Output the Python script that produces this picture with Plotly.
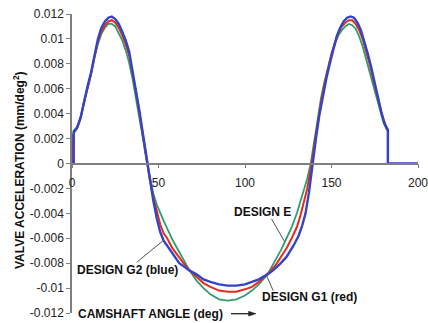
import numpy as np
import plotly.graph_objects as go

# Valve acceleration vs camshaft angle for three cam designs
# Design E (green)
angle_e = [0, 0, 3, 5, 7, 9, 11, 13, 15, 17, 19, 21, 23, 25, 27, 29, 31, 33, 35, 37, 39, 41, 43,
           45, 47, 49, 51, 53, 55, 58, 62, 65, 68, 72, 76, 80, 85, 90, 95, 100, 104, 108, 113,
           115, 118, 121, 124, 127, 130, 132, 134, 136, 138, 140, 142, 144, 146, 148, 150, 152,
           154, 156, 158, 160, 162, 164, 166, 168, 170, 172, 174, 176, 178, 180, 182, 182.6, 182.6]
accel_e = [0.0, 0.0022, 0.0028, 0.0036, 0.0049, 0.0060, 0.0071, 0.0085, 0.0096, 0.0104, 0.0109,
           0.0112, 0.0112, 0.0110, 0.0105, 0.0099, 0.0091, 0.0081, 0.0068, 0.0053, 0.0037, 0.0020,
           0.0003, -0.0012, -0.0024, -0.0033, -0.0040, -0.0046, -0.0052, -0.0061, -0.0071, -0.0079,
           -0.0086, -0.0094, -0.0100, -0.0105, -0.0109, -0.0110, -0.0109, -0.0106, -0.0102, -0.0097,
           -0.0089, -0.0084, -0.0077, -0.0069, -0.0060, -0.0051, -0.0040, -0.0031, -0.0021, -0.0012,
           0.0000, 0.0019, 0.0037, 0.0053, 0.0066, 0.0078, 0.0088, 0.0096, 0.0103, 0.0107, 0.0110,
           0.0112, 0.0111, 0.0108, 0.0102, 0.0094, 0.0084, 0.0073, 0.0062, 0.0052, 0.0042, 0.0033,
           0.0027, 0.0026, 0.0]

# Design G1 (red)
angle_g1 = [0, 1, 3, 5, 7, 9, 11, 13, 15, 17, 19, 21, 23, 25, 27, 29, 31, 33, 35, 37, 39, 41, 43,
            45, 47, 49, 51, 53, 55, 58, 62, 65, 68, 72, 76, 80, 85, 90, 95, 100, 104, 108, 113,
            115, 118, 121, 124, 127, 130, 132, 134, 136, 138, 140, 142, 144, 146, 148, 150, 152,
            154, 156, 158, 160, 162, 164, 166, 168, 170, 172, 174, 176, 178, 180, 182, 182.6, 182.6]
accel_g1 = [0.0, 0.0025, 0.0029, 0.0037, 0.0050, 0.0061, 0.0072, 0.0086, 0.0098, 0.0106, 0.0111,
            0.0114, 0.0115, 0.0113, 0.0109, 0.0103, 0.0096, 0.0087, 0.0073, 0.0057, 0.0040, 0.0022,
            0.0004, -0.0013, -0.0027, -0.0039, -0.0049, -0.0056, -0.0060, -0.0068, -0.0076, -0.0081,
            -0.0086, -0.0091, -0.0096, -0.0099, -0.0102, -0.0103, -0.0103, -0.0101, -0.0099, -0.0095,
            -0.0089, -0.0086, -0.0081, -0.0075, -0.0068, -0.0060, -0.0051, -0.0042, -0.0032, -0.0020,
            -0.0004, 0.0014, 0.0033, 0.0050, 0.0064, 0.0077, 0.0088, 0.0097, 0.0105, 0.0110, 0.0113,
            0.0115, 0.0115, 0.0112, 0.0107, 0.0100, 0.0091, 0.0080, 0.0068, 0.0057, 0.0045, 0.0035,
            0.0028, 0.0027, 0.0]

# Design G2 (blue)
angle_g2 = [0, 1, 1, 3, 5, 7, 9, 11, 13, 15, 17, 19, 21, 23, 25, 27, 29, 31, 33, 35, 37, 39, 41,
            43, 45, 47, 49, 51, 53, 55, 57, 59, 62, 65, 68, 72, 76, 80, 85, 90, 95, 100, 104, 108,
            113, 116, 120, 124, 128, 131, 133, 135, 137, 139, 141, 143, 145, 147, 149, 151, 153,
            155, 157, 159, 161, 163, 165, 167, 169, 171, 173, 175, 177, 179, 181, 182.6, 182.6, 200]
accel_g2 = [0.0, 0.0, 0.0026, 0.0029, 0.0037, 0.0051, 0.0062, 0.0073, 0.0088, 0.0100, 0.0109,
            0.0114, 0.0117, 0.0118, 0.0116, 0.0112, 0.0106, 0.0099, 0.0090, 0.0075, 0.0059, 0.0042,
            0.0024, 0.0005, -0.0014, -0.0030, -0.0044, -0.0055, -0.0062, -0.0066, -0.0071, -0.0075,
            -0.0080, -0.0083, -0.0086, -0.0089, -0.0093, -0.0095, -0.0097, -0.0098, -0.0098,
            -0.0097, -0.0095, -0.0093, -0.0089, -0.0086, -0.0081, -0.0075, -0.0066, -0.0058,
            -0.0050, -0.0040, -0.0023, 0.0000, 0.0020, 0.0039, 0.0055, 0.0068, 0.0080, 0.0092,
            0.0102, 0.0109, 0.0114, 0.0117, 0.0118, 0.0117, 0.0113, 0.0107, 0.0098, 0.0088, 0.0077,
            0.0065, 0.0052, 0.0040, 0.0031, 0.0027, 0.0, 0.0]

y_tick_vals = [0.012, 0.01, 0.008, 0.006, 0.004, 0.002, 0, -0.002, -0.004, -0.006, -0.008, -0.01, -0.012]
y_tick_text = ["0.012", "0.01", "0.008", "0.006", "0.004", "0.002", "0",
               "-0.002", "-0.004", "-0.006", "-0.008", "-0.01", "-0.012"]
x_tick_vals = [0, 50, 100, 150, 200]
x_tick_text = ["0", "50", "100", "150", "200"]

FONT = "Liberation Sans, Arial, sans-serif"
GREEN = "#2f9e6c"
RED = "#e62a1e"
BLUE = "#3344c4"

W, H = 428, 323
ML, MR, MT, MB = 72, 10, 14, 10

fig = go.Figure()
fig.add_trace(go.Scatter(x=angle_e, y=accel_e, mode="lines", line=dict(color=GREEN, width=1.8)))
fig.add_trace(go.Scatter(x=angle_g1, y=accel_g1, mode="lines", line=dict(color=RED, width=2)))
fig.add_trace(go.Scatter(x=angle_g2, y=accel_g2, mode="lines", line=dict(color=BLUE, width=2.4)))

fig.update_layout(
    width=W, height=H,
    margin=dict(l=ML, r=MR, t=MT, b=MB),
    paper_bgcolor="white", plot_bgcolor="white",
    showlegend=False,
    font=dict(family=FONT, size=12, color="#222"),
)
fig.update_xaxes(
    range=[0, 200], showgrid=False, zeroline=False,
    showline=True, linecolor="#808080", linewidth=1.5,
    anchor="free", position=0.5, automargin=False,
    ticks="outside", ticklen=4, tickcolor="#808080",
    tickvals=x_tick_vals, ticktext=x_tick_text,
    ticklabelstandoff=4, ticklabeloverflow="allow",
)
fig.update_yaxes(
    range=[-0.012, 0.012], showgrid=False, zeroline=False, automargin=False,
    showline=True, linecolor="#808080", linewidth=1.5,
    ticks="outside", ticklen=4, tickcolor="#808080",
    tickvals=y_tick_vals, ticktext=y_tick_text,
)

bold = dict(family=FONT, size=12, color="#111")


def px_to_paper(px, py):
    return (px - ML) / (W - ML - MR), 1 - (py - MT) / (H - MT - MB)


# axis titles (paper coordinates so they can sit on the plot edge)
tx, ty = px_to_paper(19, 170)
fig.add_annotation(xref="paper", yref="paper", x=tx, y=ty, textangle=-90,
                   xanchor="center", yanchor="middle",
                   text="<b>VALVE ACCELERATION (mm/deg<sup>2</sup>)</b>", showarrow=False,
                   font=dict(family=FONT, size=12, color="#111"))
fig.add_annotation(xref="paper", yref="paper", x=0.013, y=-0.002, xanchor="left", yanchor="middle",
                   text="<b>CAMSHAFT ANGLE (deg)</b>", showarrow=False, font=bold)

# direction arrow after the x-axis title
ax0, ay0 = px_to_paper(231, 313.7)
ax1, _ = px_to_paper(250, 313.7)
tipx, _ = px_to_paper(256, 313.7)
_, hy_top = px_to_paper(0, 311.3)
_, hy_bot = px_to_paper(0, 316.1)
fig.add_shape(type="line", xref="paper", yref="paper", x0=ax0, y0=ay0, x1=ax1, y1=ay0,
              line=dict(color="#222", width=1.3))
fig.add_shape(type="path", xref="paper", yref="paper",
              path=f"M {ax1-0.004},{hy_top} L {tipx},{ay0} L {ax1-0.004},{hy_bot} Z",
              fillcolor="#222", line=dict(color="#222", width=0.5))


# design labels with pointer lines to their curves
def pointer(x0, y0, x1, y1):
    fig.add_shape(type="line", x0=x0, y0=y0, x1=x1, y1=y1,
                  line=dict(color="#555", width=1))


fig.add_annotation(x=110, y=-0.0039, text="<b>DESIGN E</b>", showarrow=False, font=bold)
pointer(115.3, -0.00444, 123, float(np.interp(123, angle_e, accel_e)))

fig.add_annotation(x=32.1, y=-0.00858, text="<b>DESIGN G2 (blue)</b>", showarrow=False, font=bold)
pointer(37.4, -0.00793, 52.9, float(np.interp(52.9, angle_g2[2:], accel_g2[2:])))

fig.add_annotation(x=137, y=-0.01075, text="<b>DESIGN G1 (red)</b>", showarrow=False, font=bold)
pointer(116.3, -0.01021, 112.4, float(np.interp(112.4, angle_g1, accel_g1)))

fig.write_html("out.html")
